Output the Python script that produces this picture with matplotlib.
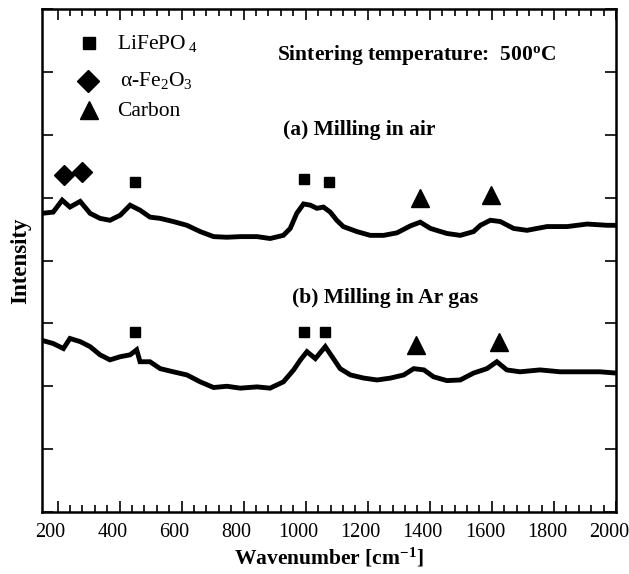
import matplotlib
matplotlib.use("Agg")
import matplotlib.pyplot as plt
import matplotlib.transforms as mtransforms
from matplotlib.ticker import MultipleLocator, FixedLocator, NullFormatter

plt.rcParams['font.family'] = 'Liberation Serif'
plt.rcParams['mathtext.fontset'] = 'custom'
plt.rcParams['mathtext.rm'] = 'Liberation Serif'
plt.rcParams['mathtext.it'] = 'Liberation Serif:italic'
plt.rcParams['mathtext.bf'] = 'Liberation Serif:bold'

# Raman spectra, sintered at 500 C
wn_a = [150, 186, 215, 240, 273, 305, 337, 369, 402, 434, 466, 498, 531, 573, 617,
        660, 703, 746, 789, 843, 885, 928, 950, 971, 993, 1015, 1036, 1057, 1079,
        1100, 1121, 1165, 1208, 1251, 1294, 1337, 1369, 1402, 1455, 1498, 1541,
        1563, 1595, 1627, 1670, 1713, 1778, 1843, 1907, 1972, 2000]
int_a = [4.75, 4.77, 4.96, 4.85, 4.94, 4.75, 4.67, 4.64, 4.72, 4.88, 4.80, 4.69,
         4.67, 4.62, 4.56, 4.46, 4.38, 4.37, 4.38, 4.38, 4.35, 4.40, 4.51, 4.75,
         4.90, 4.88, 4.83, 4.85, 4.77, 4.64, 4.54, 4.46, 4.40, 4.40, 4.44, 4.55,
         4.61, 4.51, 4.43, 4.40, 4.46, 4.56, 4.64, 4.62, 4.51, 4.48, 4.54, 4.54,
         4.58, 4.56, 4.56]

wn_b = [150, 186, 219, 240, 273, 305, 337, 369, 402, 434, 455, 466, 498, 531, 573,
        617, 660, 703, 746, 789, 843, 885, 928, 961, 983, 1004, 1031, 1063, 1085,
        1111, 1144, 1187, 1230, 1273, 1316, 1348, 1381, 1412, 1455, 1498, 1541,
        1584, 1616, 1648, 1691, 1755, 1820, 1884, 1948, 2000]
int_b = [2.73, 2.68, 2.60, 2.76, 2.71, 2.63, 2.50, 2.42, 2.47, 2.50, 2.58, 2.39,
         2.39, 2.28, 2.23, 2.18, 2.07, 1.98, 2.00, 1.97, 1.99, 1.97, 2.07, 2.26,
         2.42, 2.55, 2.44, 2.63, 2.47, 2.28, 2.18, 2.13, 2.10, 2.13, 2.18, 2.28,
         2.26, 2.15, 2.09, 2.10, 2.21, 2.28, 2.39, 2.26, 2.23, 2.26, 2.23, 2.23,
         2.23, 2.21]

# peak assignments: (wavenumber, height) for each phase
lfp_x = [450, 993, 1075, 450, 995, 1063]
lfp_y = [5.25, 5.30, 5.25, 2.86, 2.86, 2.86]
hem_x = [221, 278]
hem_y = [5.36, 5.41]
carb_x = [1367, 1598, 1355, 1622]
carb_y = [4.99, 5.04, 2.65, 2.71]

fig = plt.figure(figsize=(6.29, 5.74), dpi=100)
ax = fig.add_axes([0.0668, 0.108, 0.9125, 0.8763])

ax.plot(wn_a, int_a, color='black', lw=3.5, solid_joinstyle='miter')
ax.plot(wn_b, int_b, color='black', lw=3.5, solid_joinstyle='miter')

ax.plot(lfp_x, lfp_y, 's', color='black', ms=7.5, ls='none')
ax.plot(hem_x, hem_y, 'D', color='black', ms=10.5, ls='none')
ax.plot(carb_x, carb_y, '^', color='black', ms=12.5, ls='none')

# legend drawn by hand, in axes coords
ax.plot([0.082], [0.932], 's', color='black', ms=9, transform=ax.transAxes, clip_on=False)
ax.plot([0.080], [0.857], 'D', color='black', ms=11, transform=ax.transAxes, clip_on=False)
ax.plot([0.082], [0.799], '^', color='black', ms=13, transform=ax.transAxes, clip_on=False)
ax.text(0.130, 0.932, r'LiFePO$_{\ 4}$', transform=ax.transAxes, fontsize=15.5, va='center')
ax.text(0.136, 0.857, 'α-Fe$_2$O$_3$', transform=ax.transAxes, fontsize=15.5, va='center')
ax.text(0.130, 0.797, 'Carbon', transform=ax.transAxes, fontsize=15.5, va='center')

ax.text(0.410, 0.909, r'Sintering temperature:  500$^\mathbf{o}$C', transform=ax.transAxes,
        fontsize=15.5, fontweight='bold', va='center')
ax.text(0.419, 0.759, '(a) Milling in air', transform=ax.transAxes,
        fontsize=15.5, fontweight='bold', va='center')
ax.text(0.436, 0.425, '(b) Milling in Ar gas', transform=ax.transAxes,
        fontsize=15.5, fontweight='bold', va='center')

ax.set_xlim(150, 2000)
ax.set_ylim(0, 8)
ax.xaxis.set_major_locator(MultipleLocator(200))
ax.xaxis.set_minor_locator(FixedLocator(range(200, 2001, 40)))
ax.yaxis.set_major_locator(MultipleLocator(1))
ax.yaxis.set_major_formatter(NullFormatter())

ax.tick_params(which='both', direction='in', top=True, right=True, width=1.2)
ax.tick_params(which='major', length=8)
ax.tick_params(which='minor', length=5)
ax.tick_params(axis='x', labelsize=14.5, pad=8)
for sp in ax.spines.values():
    sp.set_linewidth(1.8)

# tick labels sit a little left of their ticks
shift = mtransforms.ScaledTranslation(-7 / 100, 0, fig.dpi_scale_trans)
for lab in ax.get_xticklabels():
    lab.set_transform(lab.get_transform() + shift)

ax.set_xlabel(r'Wavenumber [cm$^\mathbf{-1}$]', fontsize=15.5, fontweight='bold', labelpad=3)
ax.set_ylabel('Intensity', fontsize=16.5, fontweight='bold', labelpad=4)

fig.savefig('out.png', dpi=100)
